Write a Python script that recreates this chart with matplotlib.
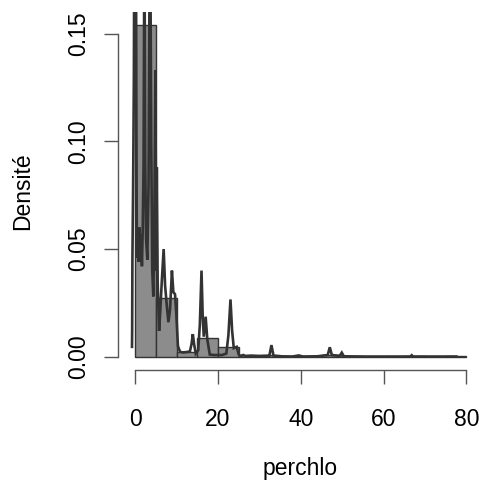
import matplotlib
matplotlib.use("Agg")
import matplotlib.pyplot as plt

# Histogram (density scale), bins of width 5 from 0 to 80
bin_edges = [0, 5, 10, 15, 20, 25, 30, 35, 40, 45, 50, 55, 60, 65, 70, 75, 80]
bin_density = [0.1539, 0.0271, 0.0023, 0.0085, 0.0047, 0.0008, 0.0006, 0.0002,
               0.0002, 0.0006, 0.0004, 0.0, 0.0, 0.0002, 0.0, 0.0002]

# Density curve
dens_x = [-0.80, -0.76, -0.70, -0.55, -0.45, -0.35, -0.20, 0.00, 0.15, 0.25, 0.35,
          0.50, 0.70, 0.85, 1.00, 1.20, 1.40, 1.60, 1.80, 2.00, 2.20, 2.40, 2.60,
          2.90, 3.20, 3.55, 3.85, 4.10, 4.35, 4.60, 4.85, 5.05, 5.20, 5.40, 5.75,
          6.00, 6.40, 6.85, 7.20, 7.60, 8.00, 8.40, 8.85, 9.20, 9.60, 9.90, 10.30,
          10.80, 11.50, 12.50, 13.20, 13.60, 13.90, 14.20, 14.60, 15.20, 15.60,
          16.00, 16.30, 16.55, 17.00, 17.40, 18.00, 19.00, 20.00, 21.00, 22.00,
          22.50, 23.00, 23.40, 23.80, 24.50, 25.00, 25.30, 26.10, 26.60, 28.00,
          30.00, 32.40, 32.90, 33.40, 35.00, 38.00, 39.50, 40.50, 44.00, 46.50,
          47.00, 47.50, 49.40, 49.90, 50.40, 55.00, 60.00, 66.50, 66.80, 67.10,
          77.60]
dens_y = [0.0046, 0.0124, 0.045, 0.075, 0.100, 0.130, 0.220, 0.250, 0.200, 0.120,
          0.060, 0.046, 0.058, 0.044, 0.060, 0.048, 0.057, 0.042, 0.060, 0.090,
          0.200, 0.090, 0.055, 0.045, 0.080, 0.220, 0.100, 0.040, 0.028, 0.060,
          0.133, 0.040, 0.088, 0.035, 0.012, 0.020, 0.035, 0.050, 0.033, 0.024,
          0.016, 0.022, 0.040, 0.030, 0.029, 0.020, 0.005, 0.0023, 0.0020,
          0.0022, 0.0025, 0.006, 0.0105, 0.006, 0.0015, 0.003, 0.015, 0.040,
          0.018, 0.0093, 0.0186, 0.008, 0.0010, 0.0008, 0.0008, 0.0008, 0.0015,
          0.010, 0.0266, 0.012, 0.004, 0.0046, 0.0010, 0.0003, 0.0008, 0.0003,
          0.0005, 0.0003, 0.0005, 0.0054, 0.0005, 0.0002, 0.0001, 0.0006,
          0.0001, 0.0002, 0.0008, 0.0044, 0.0008, 0.0004, 0.0019, 0.0002,
          0.0001, 0.0001, 0.0001, 0.0007, 0.0001, 0.0001]

x_ticks = [0, 20, 40, 60, 80]
y_ticks = [0.00, 0.05, 0.10, 0.15]
y_tick_labels = ["0.00", "0.05", "0.10", "0.15"]
x_label = "perchlo"
y_label = "Densité"

plt.rcParams['font.family'] = ['Liberation Sans', 'DejaVu Sans']
FS = 16.5

W, H = 479, 483
fig = plt.figure(figsize=(W / 100, H / 100), dpi=100)
left_px, right_px, top_px, bottom_px = 118.3, 474.6, 11.7, 370.0
ax = fig.add_axes([left_px / W, 1 - bottom_px / H,
                   (right_px - left_px) / W, (bottom_px - top_px) / H])

widths = [bin_edges[i + 1] - bin_edges[i] for i in range(len(bin_density))]
ax.bar(bin_edges[:-1], bin_density, width=widths, align='edge',
       color='#8c8c8c', edgecolor='#333333', linewidth=1.0)
ax.plot(dens_x, dens_y, color='#333333', linewidth=1.9, solid_joinstyle='miter')

ax.set_xlim(-4.11, 82.0)
ax.set_ylim(-0.00616, 0.1602)

for s in ['top', 'right']:
    ax.spines[s].set_visible(False)
ax.spines['left'].set_bounds(0, 0.15)
ax.spines['bottom'].set_bounds(0, 80)
for s in ['left', 'bottom']:
    ax.spines[s].set_color('#555555')
    ax.spines[s].set_linewidth(1.0)

ax.set_xticks(x_ticks)
ax.set_xticklabels([str(t) for t in x_ticks], fontsize=FS)
ax.set_yticks(y_ticks)
ax.set_yticklabels(y_tick_labels, fontsize=FS, rotation=90, va='center')
ax.tick_params(axis='x', length=10, width=1.0, color='#555555', pad=17)
ax.tick_params(axis='y', length=10, width=1.0, color='#555555', pad=10)

fig.text(23 / W, 1 - 190.8 / H, y_label, rotation=90, fontsize=FS,
         ha='center', va='center')
fig.text(300.5 / W, 1 - 468 / H, x_label, fontsize=FS, ha='center', va='center')

fig.savefig("out.png", dpi=100)
